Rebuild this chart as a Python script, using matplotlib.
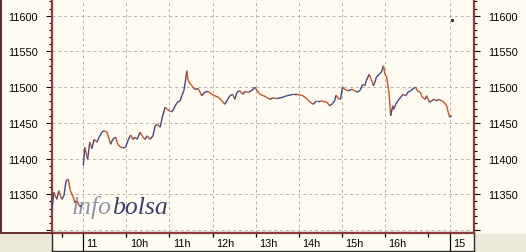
import numpy as np
import matplotlib.pyplot as plt
from matplotlib.collections import LineCollection
from matplotlib.patches import Rectangle
from matplotlib.lines import Line2D

# minutes from 9:00 on the 11th (negative = end of previous session)
prev_min = [-44, -41, -37, -34, -30, -27, -24, -21, -18, -14, -12, -9, -5, -2]
prev_px = [11325, 11353, 11343, 11355, 11343, 11348, 11369, 11371, 11355, 11346,
           11339, 11341, 11333, 11334]

day_min = [0, 2, 6, 9, 12, 15, 19, 22, 26, 29, 33, 36, 38, 41, 45, 48, 52, 55, 59,
           62, 66, 69, 72, 75, 79, 83, 86, 89, 93, 97, 100, 103, 107, 110, 114, 117,
           121, 124, 128, 131, 135, 137, 140, 142, 144, 146, 151, 155, 160, 165, 169,
           174, 179, 183, 188, 193, 197, 200, 204, 208, 211, 214, 218, 222, 225, 230,
           234, 239, 242, 246, 251, 255, 260, 264, 269, 274, 278, 283, 288, 292, 297,
           302, 306, 311, 316, 320, 325, 330, 334, 339, 343, 347, 350, 352, 355, 358,
           361, 364, 369, 374, 378, 381, 385, 389, 392, 394, 398, 401, 404, 406, 408,
           412, 415, 418, 420, 422, 425, 426, 428, 431, 432, 435, 438, 442, 445, 449,
           452, 456, 459, 463, 465, 469, 472, 476, 478, 482, 485, 488, 492, 495, 499,
           502, 506, 508, 510, 513]
day_px = [11390, 11416, 11399, 11423, 11414, 11427, 11423, 11430, 11437, 11439,
          11437, 11427, 11420, 11427, 11430, 11420, 11416, 11415, 11416, 11425,
          11433, 11427, 11430, 11427, 11437, 11430, 11427, 11432, 11427, 11432,
          11446, 11448, 11444, 11458, 11472, 11469, 11466, 11466, 11474, 11479,
          11481, 11488, 11495, 11507, 11523, 11509, 11502, 11497, 11498, 11488,
          11493, 11494, 11490, 11488, 11486, 11481, 11476, 11481, 11488, 11490,
          11483, 11493, 11495, 11490, 11494, 11493, 11495, 11500, 11495, 11490,
          11488, 11486, 11483, 11485, 11484, 11485, 11486, 11488, 11489, 11490,
          11490, 11489, 11488, 11484, 11479, 11476, 11481, 11481, 11480, 11479,
          11474, 11477, 11481, 11489, 11484, 11483, 11500, 11497, 11495, 11497,
          11495, 11493, 11495, 11504, 11502, 11509, 11518, 11511, 11502, 11507,
          11514, 11518, 11521, 11530, 11518, 11516, 11497, 11488, 11460, 11474,
          11469, 11476, 11481, 11486, 11490, 11488, 11493, 11495, 11498, 11500,
          11495, 11493, 11486, 11483, 11488, 11479, 11481, 11483, 11481, 11483,
          11481, 11479, 11474, 11465, 11458, 11460]

# x axis: ticks in minutes
day_ticks = [0, 510]
day_labels = ['11', '15']
hour_ticks = [60, 120, 180, 240, 300, 360, 420]
hour_labels = ['10h', '11h', '12h', '13h', '14h', '15h', '16h']
minor_ticks = [-30, 480]
y_major = [11300, 11350, 11400, 11450, 11500, 11550, 11600]

cream = '#fffbf0'
maroon = '#8c3c3c'
up_col = '#3e4486'
down_col = '#c8521f'

plt.rcParams['font.family'] = ['Liberation Sans', 'DejaVu Sans']

W, H = 526, 253
fig = plt.figure(figsize=(W / 100, H / 100), dpi=100)
fig.patch.set_facecolor('#ece9d8')


def fx(p):
    return p / W


def fy(p):
    return 1 - p / H


# top panel background and outer frame
fig.add_artist(Rectangle((0, fy(235)), 1, 235 / H, transform=fig.transFigure,
                         facecolor=cream, edgecolor='none', zorder=0))
fig.add_artist(Line2D([fx(1), fx(1)], [fy(0), fy(234)], transform=fig.transFigure,
                      color='#5a2828', lw=1.4))
fig.add_artist(Line2D([fx(0), fx(52)], [fy(234), fy(234)], transform=fig.transFigure,
                      color='#6a2c2c', lw=1.4))

ax = fig.add_axes([fx(52), fy(234), (474 - 52) / W, 234 / H])
ax.set_facecolor(cream)
ax.set_xlim(-43.6, 544)
ax.set_ylim(11295.8, 11623.5)

for s in ['left', 'right', 'bottom']:
    ax.spines[s].set_color(maroon)
    ax.spines[s].set_linewidth(1.6)
ax.spines['top'].set_visible(False)

ax.set_yticks(y_major)
ax.set_yticklabels([''] + [str(v) for v in y_major[1:]])
ax.set_yticks(np.arange(11300, 11621, 10), minor=True)
ax.set_xticks(day_ticks[:1] + hour_ticks + day_ticks[1:])
ax.tick_params(axis='x', which='both', bottom=False, labelbottom=False)
ax.tick_params(axis='y', which='major', left=True, right=True, labelleft=True,
               labelright=True, length=4.3, width=0.8, pad=5.8, labelsize=7.8,
               color='black')
ax.tick_params(axis='y', which='minor', left=True, right=True, length=2.2,
               width=0.8, color='black')
ax.grid(True, which='major', linestyle=(0, (3, 3)), color='#b4b4b4', lw=0.7)
ax.set_axisbelow(True)

# watermark, offsets in points from the lower left corner of the plot
for word, col, ha in [('info', '#9094ac', 'right'), ('bolsa', '#39406e', 'left')]:
    ax.annotate(word, xy=(0, 0), xycoords='axes fraction',
                xytext=((112 - 52) * 0.72, (234 - 214) * 0.72),
                textcoords='offset points', fontsize=18.5, style='italic',
                family='Liberation Serif', color=col, ha=ha, va='baseline',
                zorder=1)

# price line, blue when rising, orange when falling
for t, p in [(prev_min, prev_px), (day_min, day_px)]:
    t = np.array(t, dtype=float)
    p = np.array(p, dtype=float)
    segs = np.stack([np.column_stack([t[:-1], p[:-1]]),
                     np.column_stack([t[1:], p[1:]])], axis=1)
    cols = [up_col if d >= 0 else down_col for d in np.diff(p)]
    ax.add_collection(LineCollection(segs, colors=cols, lw=1.0, zorder=3))

ax.plot([513], [11594], 's', ms=1.2, color='#303040', zorder=3)

# bottom time strip
axs = fig.add_axes([fx(52), fy(251.5), (474 - 52) / W, (251.5 - 234) / H])
axs.set_facecolor(cream)
axs.set_xlim(ax.get_xlim())
axs.set_ylim(0, 1)
axs.set_xticks([])
axs.set_yticks([])
for s in ['left', 'right', 'bottom']:
    axs.spines[s].set_color('#2a2a2a')
    axs.spines[s].set_linewidth(1.0)
axs.spines['top'].set_color(maroon)
axs.spines['top'].set_linewidth(1.6)

axs.vlines(day_ticks, 0, 1, color='black', lw=0.9)
axs.vlines(hour_ticks, 0.75, 1, color='black', lw=0.9)
axs.vlines(minor_ticks, 0.78, 1, color='black', lw=0.9)
for x, lab in zip(day_ticks + hour_ticks, day_labels + hour_labels):
    axs.annotate(lab, xy=(x, 0.45), xytext=(2.4, 0), textcoords='offset points',
                 ha='left', va='center', fontsize=7.8)

fig.savefig('out.png', dpi=100, facecolor=fig.get_facecolor())
